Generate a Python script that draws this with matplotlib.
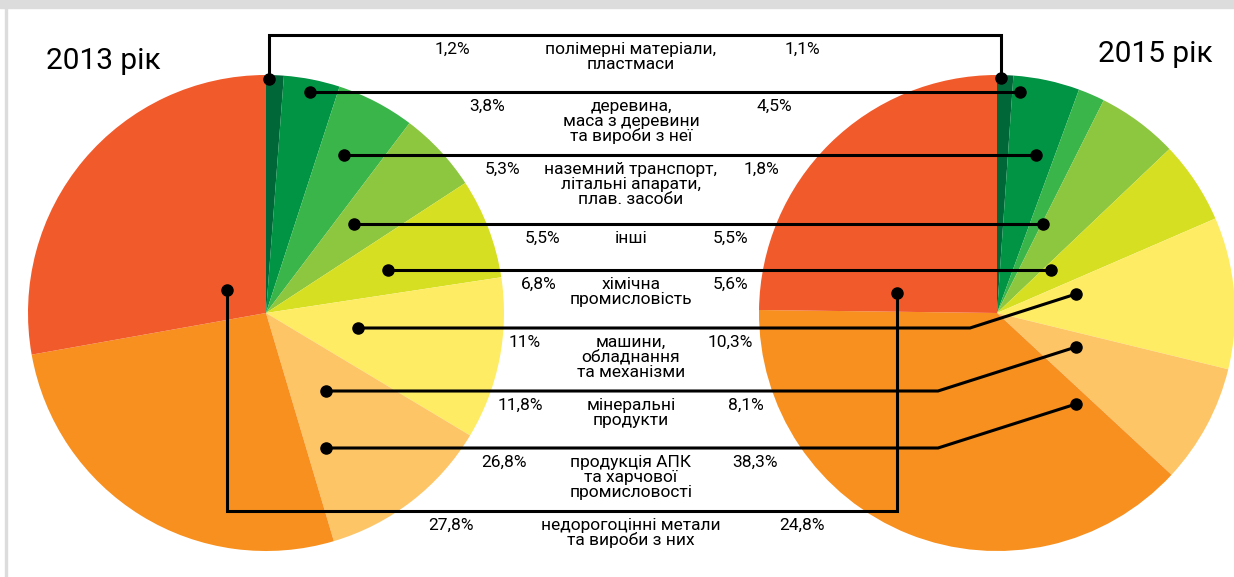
"""Two pies (2013 vs 2015 export structure) linked by leader lines to a shared
list of commodity groups in the middle."""
import matplotlib
matplotlib.use("Agg")
import matplotlib.pyplot as plt
from matplotlib.patches import Rectangle

plt.rcParams["font.family"] = ["Roboto", "DejaVu Sans"]

# ---- data -------------------------------------------------------------------
categories = [
    "полімерні матеріали,\nпластмаси",
    "деревина,\nмаса з деревини\nта вироби з неї",
    "наземний транспорт,\nлітальні апарати,\nплав. засоби",
    "інші",
    "хімічна\nпромисловість",
    "машини,\nобладнання\nта механізми",
    "мінеральні\nпродукти",
    "продукція АПК\nта харчової\nпромисловості",
    "недорогоцінні метали\nта вироби з них",
]
share_2013 = [1.2, 3.8, 5.3, 5.5, 6.8, 11, 11.8, 26.8, 27.8]
share_2015 = [1.1, 4.5, 1.8, 5.5, 5.6, 10.3, 8.1, 38.3, 24.8]
years = ["2013 рік", "2015 рік"]

colors = ["#006838", "#009444", "#39b54a", "#8dc63f", "#d7df23",
          "#feec64", "#fec567", "#f7901f", "#f15a2b"]

# ---- layout (pixel space, y pointing down) ---------------------------------
W, H = 1234, 577
C13, C15, R = (266, 313), (997, 313), 238
row_y = [35, 92, 155, 224, 270, 328, 391, 448, 511]
dot_13 = [(269, 79), (310, 92), (344, 155), (354, 224), (388, 270),
          (358, 328), (326, 391), (326, 448), (227, 290)]
dot_15 = [(1001, 78), (1020, 92), (1036, 155), (1043, 224), (1051, 270),
          (1076, 294), (1076, 347), (1076, 404), (897, 293)]
elbow_x = [None, None, None, None, None, 970, 938, 938, None]
pct_x_13 = [452, 487, 503, 542, 539, 525, 520, 504, 451]
pct_x_15 = [802, 774, 761, 730, 730, 730, 746, 755, 802]
label_x = 631
PITCH = 15
FS = 12.5


def pct(v):
    return f"{v:g}".replace(".", ",") + "%"


fig = plt.figure(figsize=(W / 100, H / 100), dpi=100)
ax = fig.add_axes([0, 0, 1, 1])

for c, vals in ((C13, share_2013), (C15, share_2015)):
    ax.pie(vals, colors=colors, startangle=-90, counterclock=True,
           center=c, radius=R, wedgeprops=dict(linewidth=0))

ax.set_xlim(0, W)
ax.set_ylim(H, 0)
ax.set_aspect("equal")
ax.axis("off")

# frame remnants of the source page
ax.add_patch(Rectangle((0, 0), W, 8, color="#dcdcdc", zorder=0))
ax.add_patch(Rectangle((5, 0), 2, H, color="#dcdcdc", zorder=0))

# leader lines
lk = dict(color="black", lw=2.2, solid_joinstyle="miter", zorder=5)
for i in range(len(categories)):
    (x1, y1), (x2, y2) = dot_13[i], dot_15[i]
    y = row_y[i]
    if i in (0, len(categories) - 1):
        xs, ys = [x1, x1, x2, x2], [y1, y, y, y2]
    elif elbow_x[i] is not None:
        xs, ys = [x1, elbow_x[i], x2], [y, y, y2]
    else:
        xs, ys = [x1, x2], [y, y]
    ax.plot(xs, ys, **lk)
    ax.plot([x1, x2], [y1, y2], "o", color="black", ms=8, zorder=6)

    base = y + 19
    ax.text(pct_x_13[i], base, pct(share_2013[i]), ha="center", va="baseline",
            fontsize=FS, zorder=7)
    ax.text(pct_x_15[i], base, pct(share_2015[i]), ha="center", va="baseline",
            fontsize=FS, zorder=7)
    for k, line in enumerate(categories[i].split("\n")):
        ax.text(label_x, base + k * PITCH, line, ha="center", va="baseline",
                fontsize=FS, zorder=7)

ax.text(46, 69, years[0], fontsize=21.5, va="baseline", ha="left")
ax.text(1213, 62, years[1], fontsize=21.5, va="baseline", ha="right")

fig.savefig("out.png", dpi=100)
